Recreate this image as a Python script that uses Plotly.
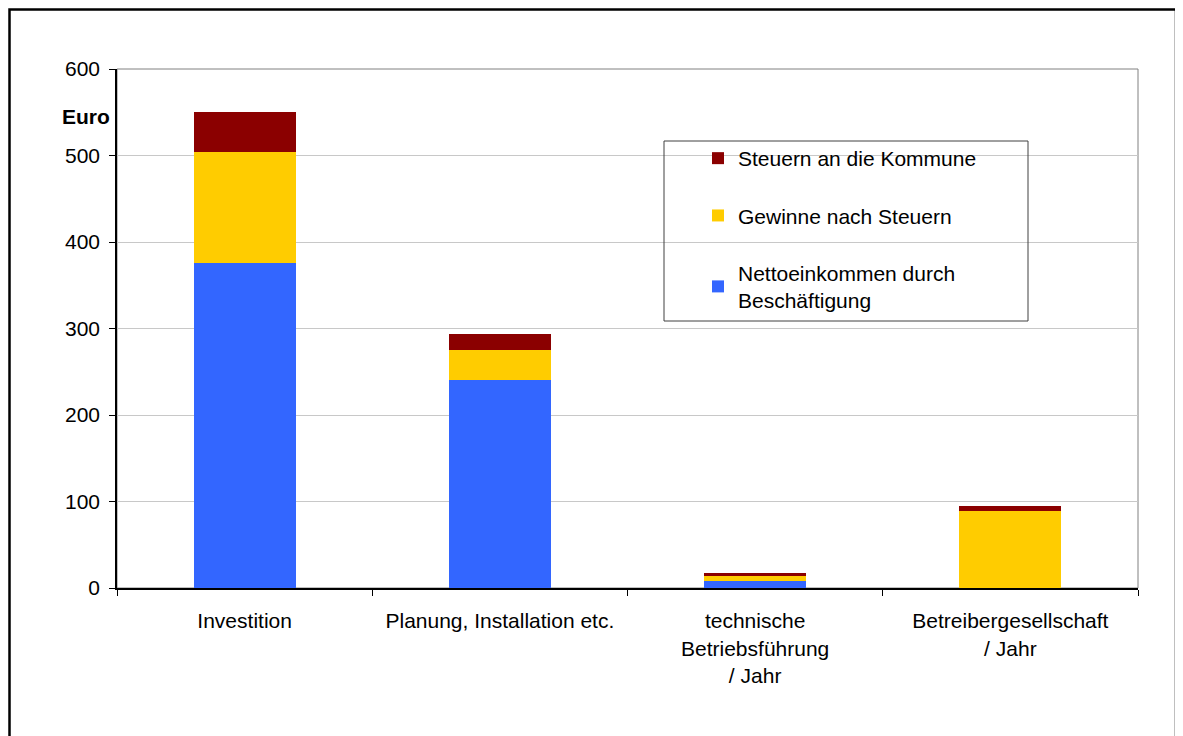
import plotly.graph_objects as go

# Daten (Euro)
kategorien = ["Investition", "Planung, Installation etc.",
              "technische<br>Betriebsführung<br>/ Jahr",
              "Betreibergesellschaft<br>/ Jahr"]
netto = [376, 240, 8, 0]
gewinne = [128, 35, 6, 89]
steuern = [46, 19, 3, 6]

# die Seite verschiebt die Grafik um 8 px (Body-Rand)
OFF = 8
W, H = 1183 - OFF, 736 - OFF
ml, mr, mt, mb = 117 - OFF, 1183 - 1138, 69 - OFF, 736 - 588
pw, ph = W - ml - mr, H - mt - mb

def px_x(x):
    return (x - OFF - ml) / pw

def px_y(y):
    return (H + OFF - mb - y) / ph

font = "Liberation Sans, Arial, sans-serif"
fs = 21

fig = go.Figure()
fig.add_trace(go.Bar(x=kategorien, y=netto, name="Nettoeinkommen durch<br>Beschäftigung",
                     marker_color="#3366FF", legendgroup="a", legendrank=3))
fig.add_trace(go.Bar(x=kategorien, y=gewinne, name="Gewinne nach Steuern",
                     marker_color="#FFCC00", legendgroup="b", legendrank=2))
fig.add_trace(go.Bar(x=kategorien, y=steuern, name="Steuern an die Kommune",
                     marker_color="#8B0000", legendgroup="c", legendrank=1))

fig.update_traces(marker_line_width=0)

fig.update_layout(
    width=W, height=H,
    margin=dict(l=ml, r=mr, t=mt, b=mb),
    barmode="stack", bargap=0.6,
    plot_bgcolor="white", paper_bgcolor="white",
    font=dict(family=font, size=fs, color="black"),
    showlegend=True,
    legend=dict(x=px_x(698), y=px_y(138), xanchor="left", yanchor="top",
                traceorder="grouped", tracegroupgap=27,
                bgcolor="rgba(0,0,0,0)", borderwidth=0,
                font=dict(size=fs)),
    xaxis=dict(showline=True, linecolor="black", linewidth=2,
               ticks="outside", tickson="boundaries", ticklen=6,
               tickcolor="black", showgrid=False, tickfont=dict(size=fs),
               ticklabelstandoff=13),
    yaxis=dict(range=[0, 600], dtick=100, showline=True, linecolor="black",
               linewidth=1.5, ticks="outside", ticklen=6, tickcolor="black",
               showgrid=True, gridcolor="#C8C8C8", gridwidth=1,
               zeroline=False, tickfont=dict(size=fs), ticklabelstandoff=5),
    shapes=[
        # Rahmen des Diagrammbereichs
        dict(type="rect", xref="paper", yref="paper", x0=0, x1=1, y0=0, y1=1,
             line=dict(color="#808080", width=1), layer="below"),
        # Legendenrahmen
        dict(type="rect", xref="paper", yref="paper",
             x0=px_x(664), x1=px_x(1028), y0=px_y(321), y1=px_y(141),
             line=dict(color="#404040", width=1)),
        # äußerer Rahmen (so weit die Seite reicht)
        dict(type="rect", xref="paper", yref="paper",
             x0=px_x(9.5), x1=px_x(1176), y0=px_y(745), y1=px_y(9.5),
             line=dict(color="black", width=2.5)),
    ],
    annotations=[
        dict(text="<b>Euro</b>", xref="paper", yref="paper",
             x=px_x(112), y=px_y(117), xanchor="right", yanchor="middle",
             showarrow=False, font=dict(size=fs)),
    ],
)

fig.write_html("out.html")
